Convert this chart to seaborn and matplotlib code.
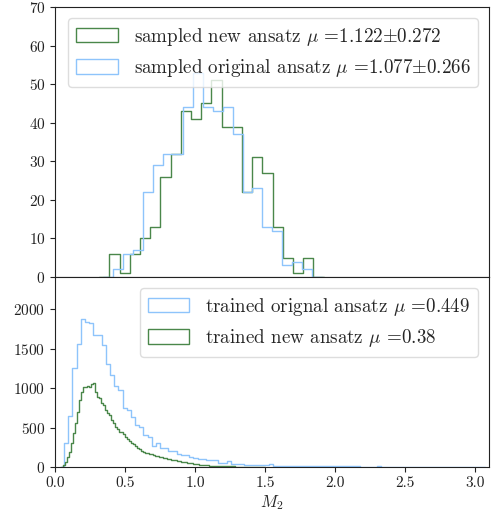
import numpy as np
import pandas as pd
import matplotlib
matplotlib.use("Agg")
import matplotlib.pyplot as plt
import seaborn as sns
from matplotlib.patches import Patch

# ---------------- data (bin counts) ----------------
top_new_counts = [6, 1, 6, 10, 13, 26, 32, 43, 41, 45, 51, 39, 39, 22, 31, 27, 13, 5, 1, 5]
top_new_range = (0.388, 1.845)
top_orig_counts = [2, 6, 7, 22, 29, 32, 32, 44, 53, 44, 43, 44, 37, 22, 23, 13, 12, 3, 4, 2]
top_orig_range = (0.417, 1.836)

bot_orig_counts = [
    300, 640, 1250, 1555, 1875, 1830, 1820, 1670, 1670, 1550,
    1300, 1160, 1020, 980, 750, 720, 630, 530, 510, 400,
    375, 266, 300, 236, 236, 207, 207, 165, 152, 152,
    122, 110, 97, 97, 89, 89, 89, 55, 55, 76,
    38, 38, 34, 30, 21, 21, 21, 21, 21, 34,
    17, 16, 15, 14, 14, 13, 18, 16, 12, 11,
    10, 10, 9, 12, 9, 8, 8, 7, 7, 10,
    7, 6, 6, 5, 5, 8, 5, 4, 4, 4,
    3, 6, 3, 3, 2, 2, 4, 2, 1, 1,
    0, 0, 0, 0, 0, 0, 0, 0, 0, 1,
]
bot_orig_range = (0.065, 3.045)
bot_new_counts = [
    25, 68, 131, 194, 300, 426, 553, 700, 848, 954,
    1017, 1017, 1025, 1008, 1047, 1068, 954, 890, 870, 806,
    785, 722, 688, 658, 595, 561, 502, 481, 447, 447,
    418, 384, 350, 333, 308, 291, 266, 245, 232, 207,
    194, 181, 173, 165, 160, 152, 143, 139, 131, 122,
    114, 110, 105, 97, 93, 89, 84, 80, 72, 68,
    63, 59, 55, 51, 46, 42, 38, 34, 30, 25,
    24, 22, 21, 19, 18, 16, 15, 14, 13, 12,
    11, 10, 9, 8, 8, 7, 6, 6, 5, 5,
    4, 4, 3, 3, 3, 2, 2, 2, 1, 1,
]
bot_new_range = (0.055, 1.485)

top_labels = [r"sampled new ansatz $\mu$ =1.122$\pm$0.272",
              r"sampled original ansatz $\mu$ =1.077$\pm$0.266"]
bot_labels = [r"trained orignal ansatz $\mu$ =0.449",
              r"trained new ansatz $\mu$ =0.38"]
top_yticks = [0, 10, 20, 30, 40, 50, 60, 70]
bot_yticks = [0, 500, 1000, 1500, 2000]
xticks = [0.0, 0.5, 1.0, 1.5, 2.0, 2.5, 3.0]

GREEN = "#4a874a"
BLUE = "#8ec4fb"

# ---------------- style ----------------
sns.set_style("ticks")
plt.rcParams.update({
    "font.family": ["cmr10", "DejaVu Serif"],
    "mathtext.fontset": "cm",
    "axes.formatter.use_mathtext": True,
    "axes.unicode_minus": False,
    "axes.edgecolor": "#222222",
    "xtick.color": "#222222",
    "ytick.color": "#222222",
})


def step_hist(ax, counts, rng, color):
    lo, hi = rng
    n = len(counts)
    edges = np.linspace(lo, hi, n + 1)
    w = edges[1] - edges[0]
    edges = np.concatenate([[lo - w], edges, [hi + w]])
    c = np.concatenate([[0], counts, [0]]).astype(float)
    centers = (edges[:-1] + edges[1:]) / 2
    df = pd.DataFrame({"x": centers, "w": c})
    sns.histplot(data=df, x="x", weights="w", bins=[float(e) for e in edges],
                 element="step", fill=False, color=color, linewidth=1.0, ax=ax)


legend_kw = dict(loc="upper right", fontsize=13.7, framealpha=0.8,
                 edgecolor="#d5d5d5", fancybox=True, handlelength=2.2,
                 handleheight=0.79, borderaxespad=0.58, handletextpad=0.84)

fig = plt.figure(figsize=(4.97, 5.17), dpi=100)
ax1 = fig.add_axes([0.1107, 0.4642, 0.8732, 0.5222])
ax2 = fig.add_axes([0.1107, 0.0967, 0.8732, 0.3675])

# top panel
step_hist(ax1, top_new_counts, top_new_range, GREEN)
step_hist(ax1, top_orig_counts, top_orig_range, BLUE)
ax1.set_xlim(0, 3.1)
ax1.set_ylim(0, 70)
ax1.set_yticks(top_yticks)
ax1.set_xticks(xticks)
ax1.tick_params(axis="x", bottom=False, labelbottom=False)
ax1.tick_params(axis="y", labelsize=11)
ax1.set_ylabel("")
ax1.set_xlabel("")
h1 = [Patch(facecolor="none", edgecolor=GREEN, linewidth=1.0),
      Patch(facecolor="none", edgecolor=BLUE, linewidth=1.0)]
ax1.legend(h1, top_labels, **legend_kw)

# bottom panel
step_hist(ax2, bot_orig_counts, bot_orig_range, BLUE)
step_hist(ax2, bot_new_counts, bot_new_range, GREEN)
ax2.set_xlim(0, 3.1)
ax2.set_ylim(0, 2405)
ax2.set_yticks(bot_yticks)
ax2.set_xticks(xticks)
ax2.set_xticklabels([f"{t:.1f}" for t in xticks])
ax2.tick_params(axis="both", labelsize=11)
ax2.set_ylabel("")
ax2.set_xlabel(r"$M_2$", fontsize=12, labelpad=2)
h2 = [Patch(facecolor="none", edgecolor=BLUE, linewidth=1.0),
      Patch(facecolor="none", edgecolor=GREEN, linewidth=1.0)]
ax2.legend(h2, bot_labels, **legend_kw)

fig.savefig("out.png", dpi=100)
